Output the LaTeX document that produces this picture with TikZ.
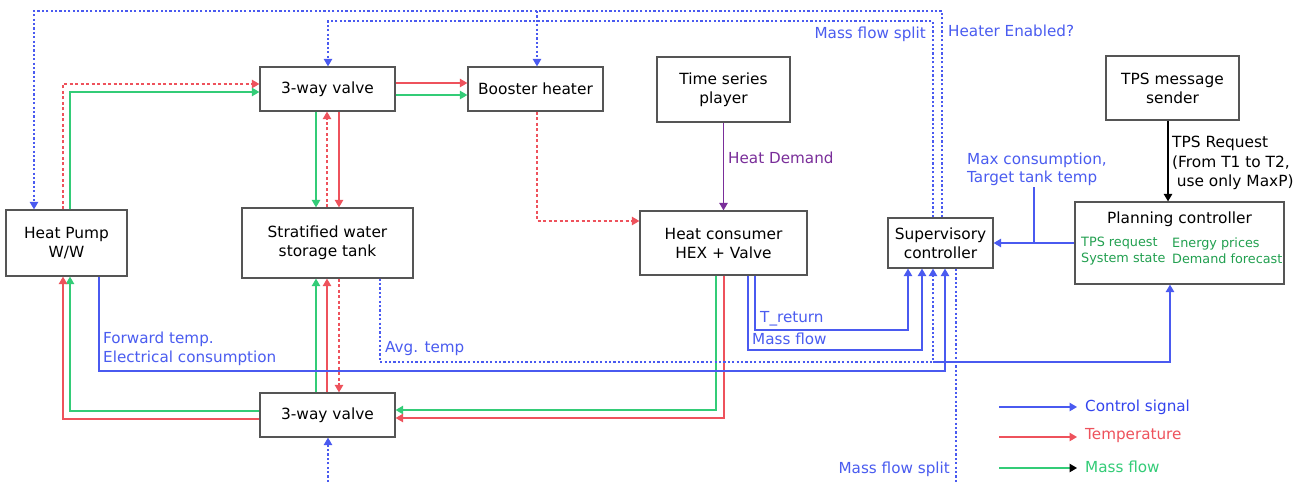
\documentclass[tikz,border=0pt]{standalone}
\usepackage{fontspec}
\setmainfont{DejaVu Sans}
\usetikzlibrary{arrows.meta}
\definecolor{cblue}{HTML}{4A5AF0}
\definecolor{cred}{HTML}{EE525C}
\definecolor{cgreen}{HTML}{33CC77}
\definecolor{tblue}{HTML}{4A5CF0}
\definecolor{tgreen}{HTML}{22A050}
\definecolor{cpurple}{HTML}{7A2E9A}
\definecolor{bgray}{HTML}{555555}
\definecolor{lgblue}{HTML}{3344EE}
\tikzset{
  box/.style={draw=bgray, line width=1.3pt, fill=white, inner sep=0pt, align=center,
    font=\fontsize{15.4}{19}\selectfont},
  lbl/.style={inner sep=0pt, align=left, font=\fontsize{15.2}{18.5}\selectfont},
  arr/.style={-{Triangle[length=7.5pt,width=8.5pt]}},
  bl/.style={draw=cblue, line width=1.2pt},
  bdot/.style={draw=cblue, line width=1.2pt, dash pattern=on 2.2pt off 2.2pt},
  rl/.style={draw=cred, line width=1.2pt},
  rdot/.style={draw=cred, line width=1.2pt, dash pattern=on 3pt off 2.5pt},
  gl/.style={draw=cgreen, line width=1.2pt},
}
\begin{document}
\begin{tikzpicture}[x=1pt,y=-1pt]
\useasboundingbox[fill=white] (0,0) rectangle (1305,482);

% boxes
\node[box, minimum width=121pt, minimum height=66pt] (hp) at (66.5,243) {Heat Pump\\W/W};
\node[box, minimum width=135pt, minimum height=44pt] (v1) at (327.5,89) {3-way valve};
\node[box, minimum width=135pt, minimum height=44pt] (boost) at (535.5,89) {Booster heater};
\node[box, minimum width=133pt, minimum height=65pt] (ts) at (723.5,89.5) {Time series\\player};
\node[box, minimum width=171pt, minimum height=70pt] (tank) at (327.5,243) {Stratified water\\storage tank};
\node[box, minimum width=167pt, minimum height=64pt] (hex) at (723.5,243) {Heat consumer\\HEX + Valve};
\node[box, minimum width=105pt, minimum height=50pt] (sup) at (940.5,243) {Supervisory\\controller};
\node[box, minimum width=133pt, minimum height=64pt] (tps) at (1172.5,88) {TPS message\\sender};
\node[box, minimum width=209pt, minimum height=82pt] (plan) at (1179.5,243) {};
\node[box, minimum width=135pt, minimum height=44pt] (v2) at (327.5,415) {3-way valve};

\node[lbl, font=\fontsize{15.4}{19}\selectfont] (plantitle) at (1179.5,219) {Planning controller};
\node[lbl, anchor=west, text=tgreen, font=\fontsize{12.8}{16}\selectfont] (pl1) at (1081,251) {TPS request\\System state};
\node[lbl, anchor=west, text=tgreen, font=\fontsize{12.8}{16}\selectfont] (pl2) at (1172,251) {Energy prices\\Demand forecast};

% top control lines
\coordinate (j1) at (537,11);
\draw[bdot,arr] (942,0 |- sup.north) |- (34,11) -- (34,0 |- hp.north);
\draw[bdot,arr] (j1) -- (537,0 |- boost.north);
\draw[bdot,arr] (933,0 |- sup.north) |- (328,21) -- (328,0 |- v1.north);
\node[lbl, anchor=east, text=tblue] (lmfs1) at (926,34) {Mass flow split};
\node[lbl, anchor=west, text=tblue] (lhe) at (948,31) {Heater Enabled?};

% heat pump to top valve
\draw[rdot,arr] (63,0 |- hp.north) |- (v1.west |- 0,84);
\draw[gl,arr] (70,0 |- hp.north) |- (v1.west |- 0,92);

% top valve to booster
\draw[rl,arr] (v1.east |- 0,83) -- (boost.west |- 0,83);
\draw[gl,arr] (v1.east |- 0,95) -- (boost.west |- 0,95);

% top valve <-> tank
\draw[gl,arr] (316,0 |- v1.south) -- (316,0 |- tank.north);
\draw[rdot,arr] (327,0 |- tank.north) -- (327,0 |- v1.south);
\draw[rl,arr] (339,0 |- v1.south) -- (339,0 |- tank.north);

% tank <-> bottom valve
\draw[gl,arr] (316,0 |- v2.north) -- (316,0 |- tank.south);
\draw[rl,arr] (327,0 |- v2.north) -- (327,0 |- tank.south);
\draw[rdot,arr] (339,0 |- tank.south) -- (339,0 |- v2.north);

% bottom valve -> heat pump
\draw[gl,arr] (v2.west |- 0,411) -| (70,0 |- hp.south);
\draw[rl,arr] (v2.west |- 0,419) -| (63,0 |- hp.south);

% hex -> bottom valve
\draw[gl,arr] (716,0 |- hex.south) |- (v2.east |- 0,410);
\draw[rl,arr] (724,0 |- hex.south) |- (v2.east |- 0,418);

% booster -> hex
\draw[rdot,arr] (537,0 |- boost.south) |- (hex.west |- 0,221);

% time series -> hex
\draw[draw=cpurple, line width=1.2pt, arr] (ts.south) -- (hex.north);
\node[lbl, anchor=west, text=cpurple] (lhd) at (728,158) {Heat Demand};

% measurements to supervisory
\draw[bl,arr] (99,0 |- hp.south) |- (945,371) -- (945,0 |- sup.south);
\node[lbl, anchor=west, text=tblue] (lfw) at (103,349) {Forward temp.\\Electrical consumption};
\coordinate (j2) at (933,362);
\draw[bdot,arr] (380,0 |- tank.south) |- (j2) -- (933,0 |- sup.south);
\draw[bl,arr] (j2) -| (1170,0 |- plan.south);
\node[lbl, anchor=west, text=tblue] (lavg) at (385,349) {Avg. temp};
\draw[bl,arr] (755,0 |- hex.south) |- (908,330) -- (908,0 |- sup.south);
\draw[bl,arr] (748,0 |- hex.south) |- (922,350) -- (922,0 |- sup.south);
\node[lbl, anchor=west, text=tblue] (ltr) at (760,319) {T\_return};
\node[lbl, anchor=west, text=tblue] (lmf) at (752,339) {Mass flow};

% mass flow split bottom
\coordinate (e1) at (956,482);
\coordinate (e2) at (328,482);
\draw[bdot] (956,0 |- sup.south) -- (e1);
\draw[bdot,arr] (e2) -- (328,0 |- v2.south);
\node[lbl, anchor=east, text=tblue] (lmfs2) at (950,469) {Mass flow split};

% planning -> supervisory
\coordinate (j3) at (1034,243);
\coordinate (j4) at (1034,187);
\draw[bl,arr] (plan.west) -- (sup.east);
\draw[bl] (j3) -- (j4);
\node[lbl, anchor=west, text=tblue] (lmax) at (967,169.5) {Max consumption,\\Target tank temp};

% tps -> planning
\draw[draw=black, line width=1.2pt, arr] (1168,0 |- tps.south) -- (1168,0 |- plan.north);
\node[lbl, anchor=west, font=\fontsize{15.4}{19.5}\selectfont] (ltps) at (1172,163) {TPS Request\\(From T1 to T2,\\\hspace{0.3em}use only MaxP)};

% legend
\coordinate (a1) at (999,407); \coordinate (b1) at (1077,407);
\coordinate (a2) at (999,437); \coordinate (b2) at (1077,437);
\coordinate (a3) at (999,468); \coordinate (b3) at (1077,468);
\draw[bl,arr] (a1) -- (b1);
\draw[rl,arr] (a2) -- (b2);
\draw[gl,-{Triangle[length=7.5pt,width=8.5pt,color=black]}] (a3) -- (b3);
\node[lbl, anchor=west, text=lgblue] (lg1) at (1085,407) {Control signal};
\node[lbl, anchor=west, text=cred] (lg2) at (1085,436) {Temperature};
\node[lbl, anchor=west, text=cgreen] (lg3) at (1085,467) {Mass flow};
\end{tikzpicture}
\end{document}
